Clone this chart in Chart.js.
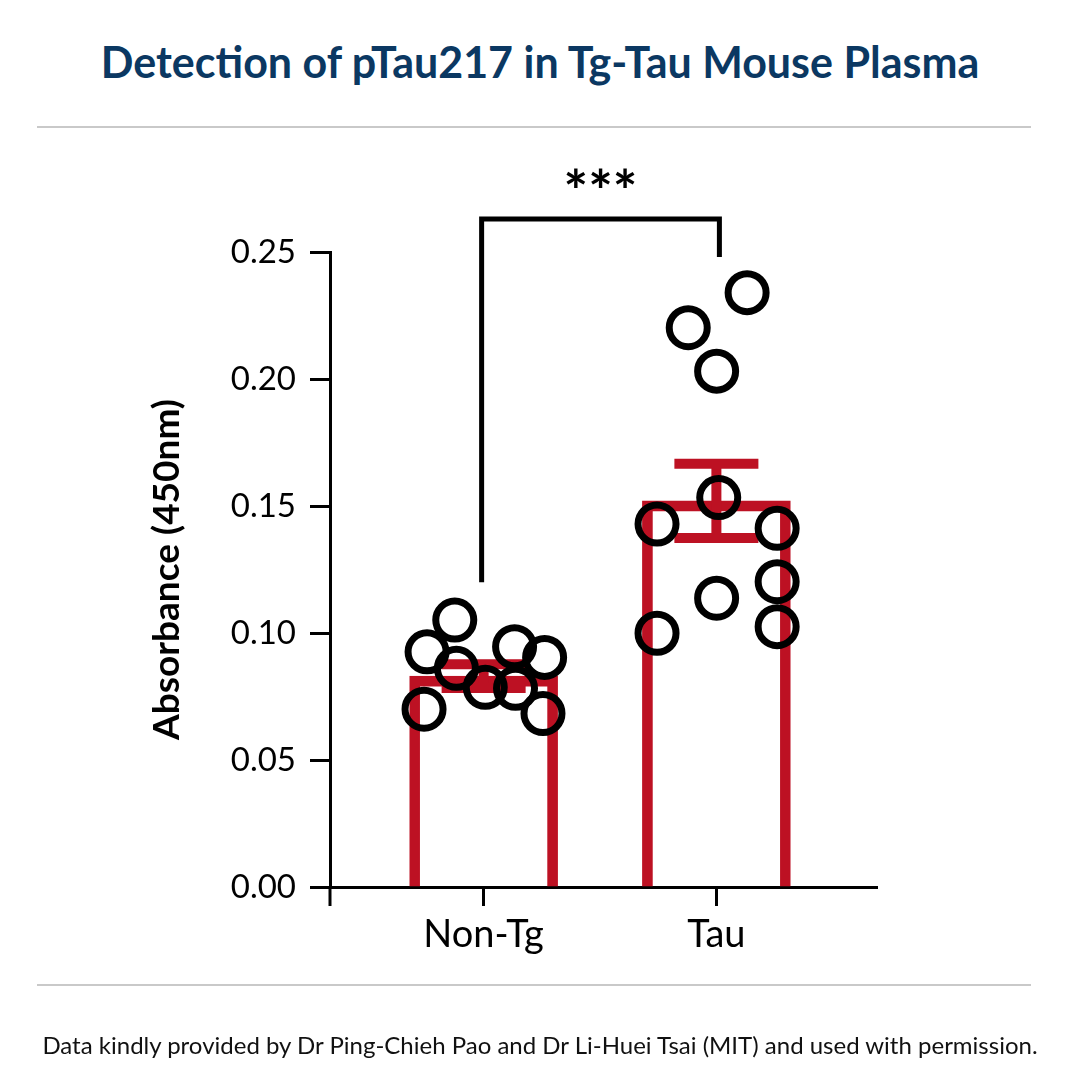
<!DOCTYPE html>
<html>
<head>
<meta charset="utf-8">
<script src="https://cdn.jsdelivr.net/npm/chart.js@4.4.1/dist/chart.umd.min.js"></script>
<style>
    html, body { margin: 0; padding: 0; background: #fff; }
    #wrap { position: relative; width: 1080px; height: 1080px; overflow: hidden; }
    #title {
        position: absolute; left: 0; top: 35px; width: 1080px; text-align: center;
        font-family: Lato, "Noto Sans", sans-serif; font-weight: 700; font-size: 43px;
        line-height: 54px; color: #0b3862;
    }
    .rule { position: absolute; left: 37px; width: 994px; height: 2px; background: #c9c9c9; }
    #footer {
        position: absolute; left: 0; top: 1030px; width: 1080px; text-align: center;
        font-family: Lato, "Noto Sans", sans-serif; font-size: 24px; line-height: 30px; color: #111;
    }
    #chart { position: absolute; left: 0; top: 0; }
</style>
</head>
<body>
<div id="wrap">
    <div id="title">Detection of pTau217 in Tg-Tau Mouse Plasma</div>
    <div class="rule" style="top:126px"></div>
    <div class="rule" style="top:984px"></div>
    <canvas id="chart" width="1080" height="1080"></canvas>
    <div id="footer">Data kindly provided by Dr Ping-Chieh Pao and Dr Li-Huei Tsai (MIT) and used with permission.</div>
</div>
<script>
// 分组和数据
const groups = ['Non-Tg', 'Tau'];
const groupPos = [0, 1];
const means = [0.083, 0.152];
const sems = [0.0047, 0.0146];

// 单个样本点 (x 为组内抖动位置)
const nonTgX = [-0.124, -0.243, -0.117, -0.256, 0.007, 0.133, 0.262, 0.137, 0.255];
const nonTgY = [0.1051, 0.0926, 0.0861, 0.0700, 0.0786, 0.0946, 0.0904, 0.0782, 0.0683];
const tauX = [0.132, -0.121, 0.001, 0.010, -0.255, 0.261, -0.255, 0.001, 0.261, 0.261];
const tauY = [0.2340, 0.2202, 0.2031, 0.1533, 0.1429, 0.1412, 0.0999, 0.1137, 0.1202, 0.1025];

// 坐标轴
const yTicks = [0, 0.05, 0.10, 0.15, 0.20, 0.25];

// 显著性标记
const sigLabel = '***';
const sigTop = 0.263;
const sigLeftBottom = 0.12;
const sigRightBottom = 0.248;

const RED = '#bd1123';
const FONT = 'Lato, "Noto Sans", sans-serif';

const points = [];
nonTgX.forEach((x, i) => points.push({ x: groupPos[0] + x, y: nonTgY[i] }));
tauX.forEach((x, i) => points.push({ x: groupPos[1] + x, y: tauY[i] }));

// 误差线 + 显著性括号
const extrasPlugin = {
    id: 'extras',
    afterDatasetDraw(chart, args) {
        if (args.index !== 0) return;
        const xs = chart.scales.x, ys = chart.scales.y;
        const ctx = chart.ctx;
        ctx.save();
        ctx.strokeStyle = RED;
        ctx.lineWidth = 10;
        ctx.lineCap = 'butt';
        means.forEach((m, i) => {
            const cx = xs.getPixelForValue(groupPos[i]);
            const hi = ys.getPixelForValue(m + sems[i]);
            const lo = ys.getPixelForValue(m - sems[i]);
            ctx.beginPath();
            ctx.moveTo(cx, hi - 5); ctx.lineTo(cx, lo + 5);
            ctx.moveTo(cx - 42, hi); ctx.lineTo(cx + 42, hi);
            ctx.moveTo(cx - 42, lo); ctx.lineTo(cx + 42, lo);
            ctx.stroke();
        });
        ctx.restore();
    },
    afterDraw(chart) {
        const xs = chart.scales.x, ys = chart.scales.y;
        const ctx = chart.ctx;
        const area = chart.chartArea;
        ctx.save();
        // x 轴左端下延
        ctx.strokeStyle = '#000';
        ctx.lineWidth = 3;
        ctx.beginPath();
        ctx.moveTo(area.left, area.bottom);
        ctx.lineTo(area.left, area.bottom + 19);
        ctx.stroke();
        // 括号
        const x1 = xs.getPixelForValue(groupPos[0]) - 2;
        const x2 = xs.getPixelForValue(groupPos[1]) + 3;
        const yt = ys.getPixelForValue(sigTop);
        ctx.lineWidth = 5;
        ctx.lineJoin = 'miter';
        ctx.beginPath();
        ctx.moveTo(x1, ys.getPixelForValue(sigLeftBottom));
        ctx.lineTo(x1, yt);
        ctx.lineTo(x2, yt);
        ctx.lineTo(x2, ys.getPixelForValue(sigRightBottom));
        ctx.stroke();
        ctx.fillStyle = '#000';
        ctx.font = `700 58px ${FONT}`;
        ctx.textAlign = 'center';
        ctx.textBaseline = 'alphabetic';
        ctx.fillText(sigLabel, (x1 + x2) / 2, 212);
        ctx.restore();
    }
};

new Chart(document.getElementById('chart'), {
    data: {
        datasets: [
            {
                type: 'bar',
                data: groupPos.map((p, i) => ({ x: p, y: means[i] })),
                backgroundColor: 'rgba(0,0,0,0)',
                borderColor: RED,
                borderWidth: { top: 10, left: 10, right: 10, bottom: 0 },
                borderSkipped: false,
                barThickness: 148,
                order: 1
            },
            {
                type: 'scatter',
                data: points,
                pointRadius: 19,
                pointHoverRadius: 19,
                borderWidth: 7,
                borderColor: '#000',
                backgroundColor: 'rgba(0,0,0,0)',
                order: 0
            }
        ]
    },
    options: {
        responsive: false,
        animation: false,
        events: [],
        layout: { padding: { left: 0, top: 252, right: 203, bottom: 0 } },
        plugins: { legend: { display: false }, tooltip: { enabled: false } },
        scales: {
            x: {
                type: 'linear',
                min: -0.66,
                max: 1.69,
                offset: false,
                afterBuildTicks: (scale) => { scale.ticks = groupPos.map(v => ({ value: v })); },
                afterFit: (scale) => { scale.height = 193; },
                ticks: {
                    callback: (v) => groups[groupPos.indexOf(v)] || '',
                    font: { family: FONT, size: 38 },
                    color: '#000',
                    padding: 6,
                    maxRotation: 0,
                    autoSkip: false
                },
                grid: { offset: false, drawOnChartArea: false, tickLength: 19, tickWidth: 3, tickColor: '#000' },
                border: { color: '#000', width: 3 }
            },
            y: {
                min: 0,
                max: 0.25,
                afterBuildTicks: (scale) => { scale.ticks = yTicks.map(v => ({ value: v })); },
                afterFit: (scale) => { scale.width = 330; },
                ticks: {
                    callback: (v) => v.toFixed(2),
                    font: { family: FONT, size: 33 },
                    color: '#000',
                    padding: 14
                },
                grid: { drawOnChartArea: false, tickLength: 20, tickWidth: 3, tickColor: '#000' },
                border: { color: '#000', width: 3 },
                title: {
                    display: true,
                    text: 'Absorbance (450nm)',
                    font: { family: FONT, size: 37, weight: '700' },
                    color: '#000',
                    padding: { top: 145, bottom: 0 }
                }
            }
        }
    },
    plugins: [extrasPlugin]
});
</script>
</body>
</html>
